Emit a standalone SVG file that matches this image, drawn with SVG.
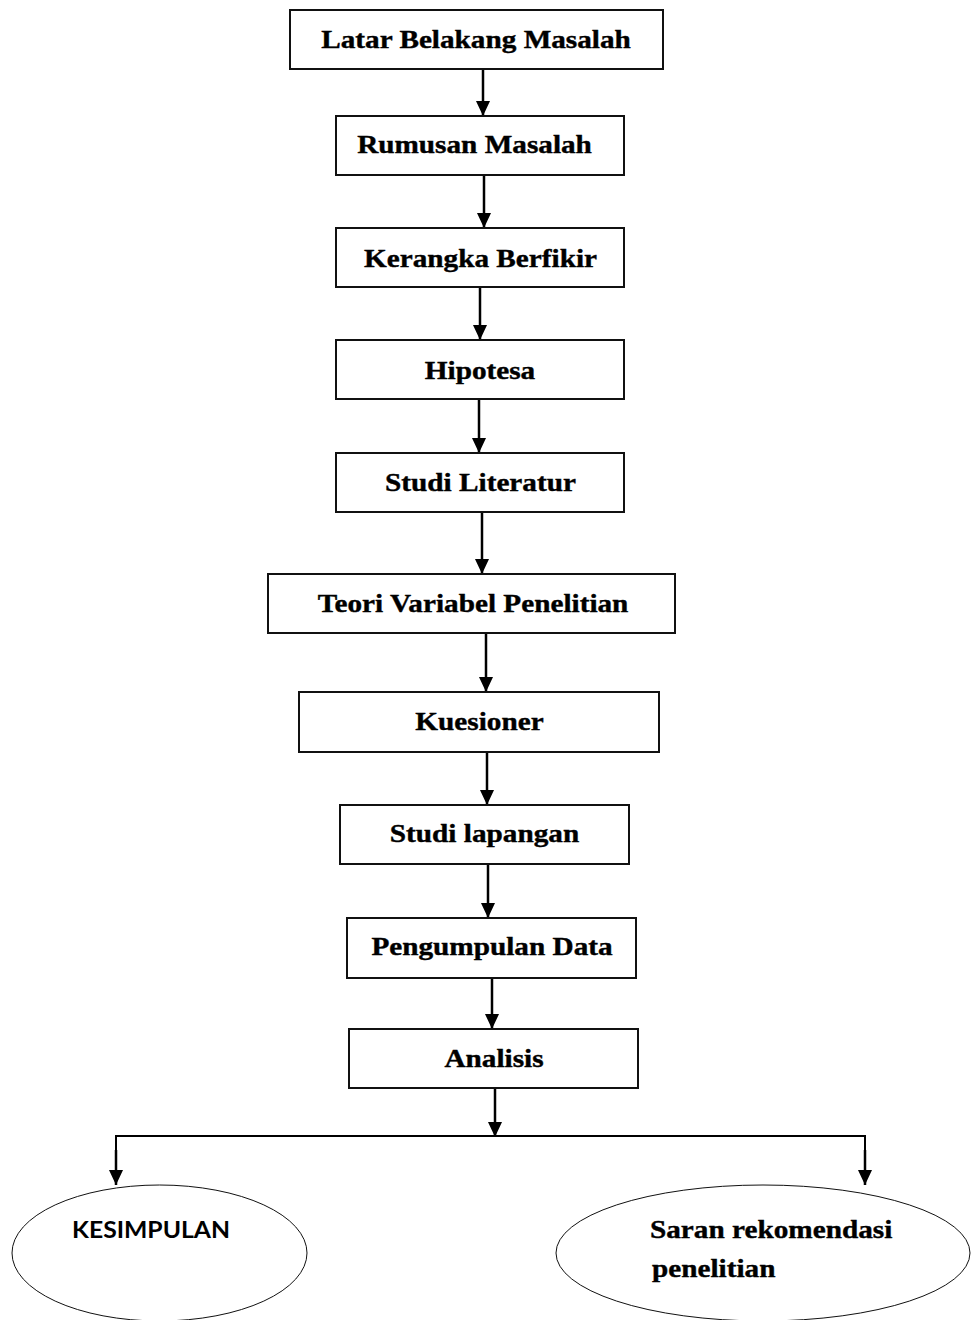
<svg xmlns="http://www.w3.org/2000/svg" width="973" height="1320" viewBox="0 0 973 1320">
<style>
.box{fill:#fff;stroke:#111;stroke-width:2}
.ell{fill:#fff;stroke:#111;stroke-width:1}
.t{font-family:"Liberation Serif","Times New Roman",serif;font-weight:bold;font-size:26px;fill:#000;stroke:#000;stroke-width:0.4;text-anchor:middle}
.l{text-anchor:start}
.s{font-family:Lato,"Liberation Sans",sans-serif;font-weight:bold;font-size:22px;fill:#000}
.c{fill:none;stroke:#000;stroke-width:2.5}
</style>
<defs>
<marker id="ah" markerUnits="userSpaceOnUse" markerWidth="15" markerHeight="14" refX="15" refY="7" orient="auto">
<path d="M0,0 L15,7 L0,14 z" fill="#000"/>
</marker>
</defs>
<rect width="973" height="1320" fill="#fff"/>
<g id="connectors">
<line class="c" x1="483" y1="69" x2="483" y2="116" marker-end="url(#ah)"/>
<line class="c" x1="484" y1="175" x2="484" y2="228" marker-end="url(#ah)"/>
<line class="c" x1="480" y1="287" x2="480" y2="340" marker-end="url(#ah)"/>
<line class="c" x1="479" y1="399" x2="479" y2="453" marker-end="url(#ah)"/>
<line class="c" x1="482" y1="512" x2="482" y2="574" marker-end="url(#ah)"/>
<line class="c" x1="486" y1="633" x2="486" y2="692" marker-end="url(#ah)"/>
<line class="c" x1="487" y1="752" x2="487" y2="805" marker-end="url(#ah)"/>
<line class="c" x1="488" y1="864" x2="488" y2="918" marker-end="url(#ah)"/>
<line class="c" x1="492" y1="978" x2="492" y2="1029" marker-end="url(#ah)"/>
<line class="c" x1="495" y1="1088" x2="495" y2="1137" marker-end="url(#ah)"/>
<polyline class="c" points="116,1185 116,1136 865,1136 865,1185" style="stroke-width:2" />
<line class="c" x1="116" y1="1150" x2="116" y2="1185" marker-end="url(#ah)"/>
<line class="c" x1="865" y1="1150" x2="865" y2="1185" marker-end="url(#ah)"/>
</g>
<g id="n1"><rect class="box" x="290" y="10" width="373" height="59"/><text class="t" transform="translate(476,48) scale(1.125,1)">Latar Belakang Masalah</text></g>
<g id="n2"><rect class="box" x="336" y="116" width="288" height="59"/><text class="t" transform="translate(474.5,153) scale(1.125,1)">Rumusan Masalah</text></g>
<g id="n3"><rect class="box" x="336" y="228" width="288" height="59"/><text class="t" transform="translate(480.5,267) scale(1.125,1)">Kerangka Berfikir</text></g>
<g id="n4"><rect class="box" x="336" y="340" width="288" height="59"/><text class="t" transform="translate(480,379) scale(1.125,1)">Hipotesa</text></g>
<g id="n5"><rect class="box" x="336" y="453" width="288" height="59"/><text class="t" transform="translate(480.5,491) scale(1.125,1)">Studi Literatur</text></g>
<g id="n6"><rect class="box" x="268" y="574" width="407" height="59"/><text class="t" transform="translate(473,612) scale(1.125,1)">Teori Variabel Penelitian</text></g>
<g id="n7"><rect class="box" x="299" y="692" width="360" height="60"/><text class="t" transform="translate(479.5,730) scale(1.125,1)">Kuesioner</text></g>
<g id="n8"><rect class="box" x="340" y="805" width="289" height="59"/><text class="t" transform="translate(484.5,842) scale(1.125,1)">Studi lapangan</text></g>
<g id="n9"><rect class="box" x="347" y="918" width="289" height="60"/><text class="t" transform="translate(492,955) scale(1.125,1)">Pengumpulan Data</text></g>
<g id="n10"><rect class="box" x="349" y="1029" width="289" height="59"/><text class="t" transform="translate(494,1067) scale(1.125,1)">Analisis</text></g>
<g id="n11"><ellipse class="ell" cx="159.5" cy="1253" rx="147.5" ry="68"/><text class="s" x="72" y="1238" textLength="158" lengthAdjust="spacingAndGlyphs">KESIMPULAN</text></g>
<g id="n12"><ellipse class="ell" cx="763" cy="1253" rx="207" ry="68"/><text class="t l" transform="translate(650,1238) scale(1.125,1)">Saran rekomendasi</text><text class="t l" transform="translate(652,1277) scale(1.125,1)">penelitian</text></g>
</svg>
